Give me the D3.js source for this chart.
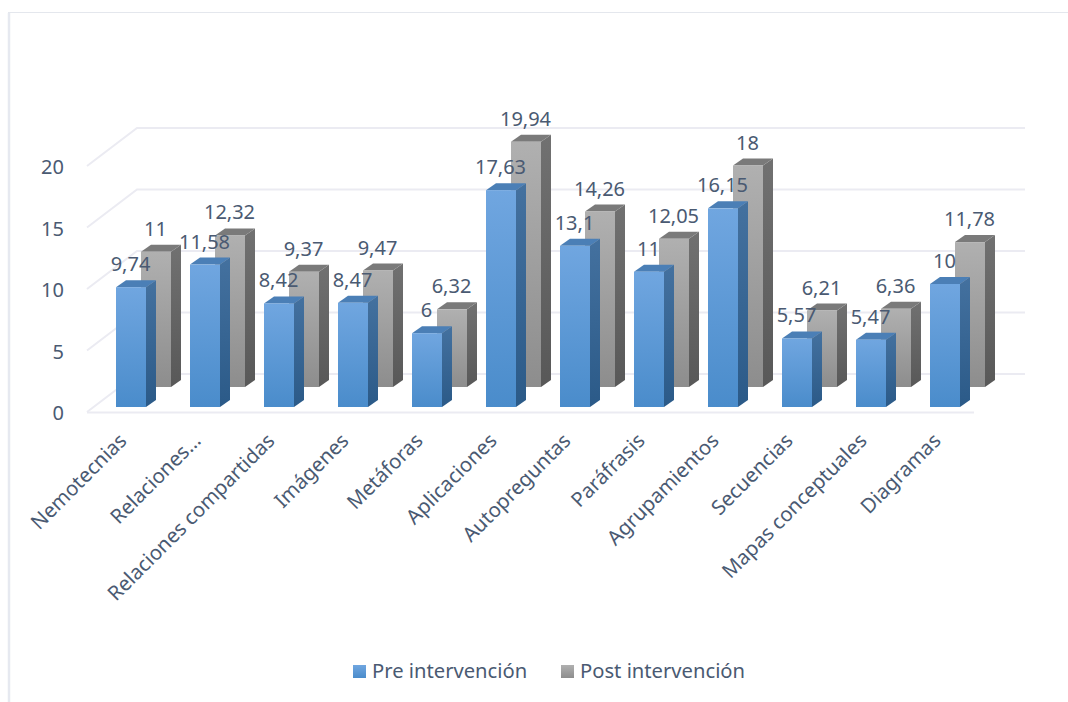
<!DOCTYPE html>
<html><head><meta charset="utf-8">
<script src="https://cdnjs.cloudflare.com/ajax/libs/d3/7.8.5/d3.min.js"></script>
<style>html,body{margin:0;padding:0;background:#fff}svg{display:block}text{font-family:"Noto Sans",sans-serif;fill:#4a5a72}</style>
</head><body><svg id="c" width="1068" height="702"></svg>
<script>
const categories=["Nemotecnias","Relaciones…","Relaciones compartidas","Imágenes","Metáforas","Aplicaciones","Autopreguntas","Paráfrasis","Agrupamientos","Secuencias","Mapas conceptuales","Diagramas"];
const preValues=[9.74,11.58,8.42,8.47,6,17.63,13.1,11,16.15,5.57,5.47,10];
const postValues=[11,12.32,9.37,9.47,6.32,19.94,14.26,12.05,18,6.21,6.36,11.78];
const preLabels=["9,74","11,58","8,42","8,47","6","17,63","13,1","11","16,15","5,57","5,47","10"];
const postLabels=["11","12,32","9,37","9,47","6,32","19,94","14,26","12,05","18","6,21","6,36","11,78"];
const yTicks=[0,5,10,15,20];
const seriesNames=["Pre intervención","Post intervención"];

const svg=d3.select("#c");
const defs=svg.append("defs");
function grad(id,a,b){const g=defs.append("linearGradient").attr("id",id).attr("x1",0).attr("y1",0).attr("x2",0).attr("y2",1);
 g.append("stop").attr("offset","0%").attr("stop-color",a);g.append("stop").attr("offset","100%").attr("stop-color",b);}
grad("preF","#70a6e0","#4a8ccb");grad("preS","#44719f","#2b5a88");
grad("postF","#b0b0b0","#8d8d8d");grad("postS","#717171","#585858");

// frame
svg.append("path").attr("d","M9 702V13").attr("fill","none").attr("stroke","#e6e9f0").attr("stroke-width",2.5);
svg.append("path").attr("d","M8 12.5H1068").attr("fill","none").attr("stroke","#e4e7ed").attr("stroke-width",1);

const x=d3.scaleBand().domain(categories).range([79,967]).paddingInner(0).paddingOuter(0);
const y=d3.scaleLinear().domain([0,20]).range([412,166]);
const wall={dx:50,dy:-38},depth={dx:10,dy:-7},barW=30;
const grid="#ebebf2";
const gl=svg.append("g").attr("fill","none").attr("stroke",grid).attr("stroke-width",2);
yTicks.forEach(t=>{
  gl.append("path").attr("d",`M${87} ${y(t)}L${87+wall.dx} ${y(t)+wall.dy}H1025`);
});
gl.append("path").attr("d",`M87 412.5H974`);

svg.append("g").selectAll("text").data(yTicks).join("text")
 .attr("x",64).attr("y",d=>y(d)+8).attr("text-anchor","end").attr("font-size",20).text(d=>d);

function bars(vals,ox,oy,f,s,top){
  const g=svg.append("g");
  vals.forEach((v,i)=>{
    const l=x(categories[i])+ox,b=y(0)+oy,t=y(v)+oy,r=l+barW;
    g.append("path").attr("d",`M${r} ${t}l${depth.dx} ${depth.dy}V${b+depth.dy}L${r} ${b}Z`).attr("fill",`url(#${s})`);
    g.append("path").attr("d",`M${l} ${t}l${depth.dx} ${depth.dy}h${barW}l${-depth.dx} ${-depth.dy}Z`).attr("fill",top);
    g.append("rect").attr("x",l).attr("y",t).attr("width",barW).attr("height",b-t).attr("fill",`url(#${f})`);
  });
}
const preO={x:37,y:-5},postO={x:62,y:-25};
bars(postValues,postO.x,postO.y,"postF","postS","#7a7a7a");
bars(preValues,preO.x,preO.y,"preF","preS","#4b7fb6");

function labels(vals,txt,o){
  svg.append("g").selectAll("text").data(vals).join("text")
   .attr("x",(d,i)=>x(categories[i])+o.x+barW/2-0.5).attr("y",d=>y(d)+o.y-16)
   .attr("text-anchor","middle").attr("font-size",20).text((d,i)=>txt[i]);
}
labels(postValues,postLabels,postO);
labels(preValues,preLabels,preO);

svg.append("g").selectAll("text").data(categories).join("text")
 .attr("text-anchor","end").attr("font-size",20.3)
 .attr("transform",d=>`translate(${x(d)+x.bandwidth()/2+12},${442}) rotate(-45)`).text(d=>d);

const leg=[{x:353,t:372,f:"preF"},{x:561,t:580,f:"postF"}];
leg.forEach((l,i)=>{
  svg.append("rect").attr("x",l.x).attr("y",665).attr("width",13).attr("height",13).attr("fill",`url(#${l.f})`);
  svg.append("text").attr("x",l.t).attr("y",678).attr("font-size",20.2).text(seriesNames[i]);
});
</script></body></html>
